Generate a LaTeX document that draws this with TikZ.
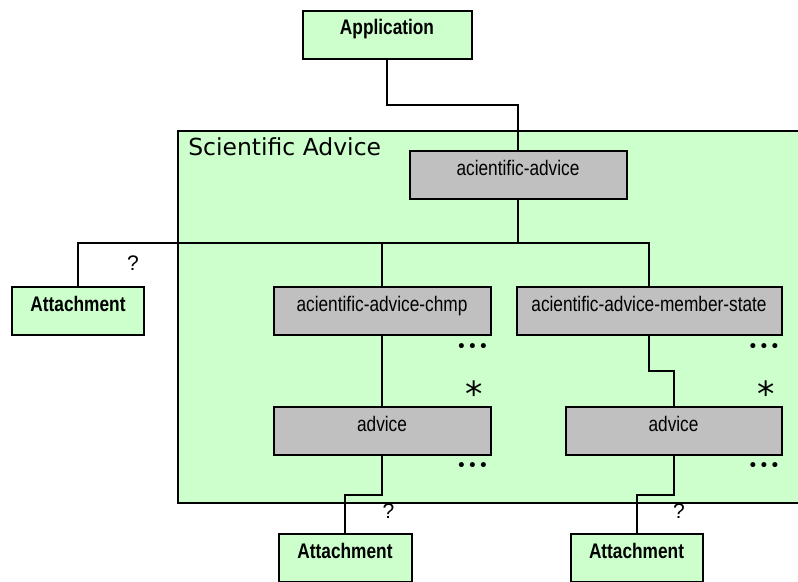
\documentclass[tikz,border=0pt]{standalone}
\usepackage{fontspec}
\setmainfont{Liberation Sans}
\newfontfamily\narrowsf[FakeStretch=0.82]{Liberation Sans}
\newfontfamily\titlesf{DejaVu Sans}
\usepackage{xcolor}
\usepackage{tikz}
\usetikzlibrary{calc}
\definecolor{pale}{HTML}{CCFFCC}
\definecolor{elem}{HTML}{C0C0C0}
\newlength{\pxu}
\setlength{\pxu}{0.75pt}
\tikzset{
  blk/.style={draw=black, line width=1.5pt, inner sep=0pt, anchor=north,
              text height=18pt, text depth=18pt,
              font=\narrowsf\fontsize{15.8}{18}\selectfont},
  entb/.style={blk, fill=pale, font=\narrowsf\bfseries\fontsize{15.8}{18}\selectfont},
  elb/.style={blk, fill=elem},
  grp/.style={draw=black, line width=1.5pt, fill=pale, anchor=north west, inner sep=0pt},
  ttl/.style={anchor=base west, inner sep=0pt, font=\titlesf\fontsize{17.6}{20}\selectfont},
  ln/.style={line width=1.5pt, draw=black},
  card/.style={inner sep=0pt, font=\fontsize{15.8}{18}\selectfont},
  many/.style={inner sep=0pt, font=\titlesf\fontsize{13}{15}\selectfont},
  star/.style={inner sep=0pt, font=\titlesf\fontsize{26}{30}\selectfont},
}

\begin{document}
\begin{tikzpicture}[x=\pxu, y=-\pxu]
\useasboundingbox (0,0) rectangle (798,581);
\clip (0,0) rectangle (798,581);

\node[grp, minimum width=660\pxu, minimum height=372\pxu] (sabox) at (177,130) {};
\node[ttl] (satitle) at (188,155) {Scientific Advice};

\node[entb, minimum width=169\pxu] (app) at (387,10) {Application};
\node[elb, minimum width=217\pxu] (sa) at (518,150) {acientific-advice};
\node[entb, minimum width=132\pxu] (att) at (78,286) {Attachment};
\node[elb, minimum width=217\pxu] (chmp) at (382,286) {acientific-advice-chmp};
\node[elb, minimum width=265\pxu] (ms) at (649,286) {acientific-advice-member-state};
\node[elb, minimum width=217\pxu] (adv) at (382,406) {advice};
\node[elb, minimum width=216\pxu] (advms) at (673.5,406) {advice};
\node[entb, minimum width=133\pxu] (attc) at (345,533) {Attachment};
\node[entb, minimum width=132\pxu] (attm) at (636.5,533) {Attachment};

\draw[ln] (app.south) |- ($(app.south)!.5!(sa.north)$) -| (sa.north);
\draw[ln] (sa.south) |- ($(sa.south)!.5!(att.north)$) -| (att.north);
\draw[ln] (sa.south) |- ($(sa.south)!.5!(chmp.north)$) -| (chmp.north);
\draw[ln] (sa.south) |- ($(sa.south)!.5!(ms.north)$) -| (ms.north);
\draw[ln] (chmp.south) -- (adv.north);
\draw[ln] (ms.south) |- ($(ms.south)!.5!(advms.north)$) -| (advms.north);
\draw[ln] (adv.south) |- ($(adv.south)!.5!(attc.north)$) -| (attc.north);
\draw[ln] (advms.south) |- ($(advms.south)!.5!(attm.north)$) -| (attm.north);

\node[card] (q1) at (133,263.5) {?};
\node[card] (q2) at (388.5,511) {?};
\node[card] (q3) at (679,511) {?};
\node[many] (d1) at (472.5,348) {•\kern0.6pt•\kern0.6pt•};
\node[many] (d2) at (764,348) {•\kern0.6pt•\kern0.6pt•};
\node[many] (d3) at (472.5,467) {•\kern0.6pt•\kern0.6pt•};
\node[many] (d4) at (764,467) {•\kern0.6pt•\kern0.6pt•};
\node[star] (s1) at (474.5,394) {*};
\node[star] (s2) at (766,394) {*};
\end{tikzpicture}
\end{document}
